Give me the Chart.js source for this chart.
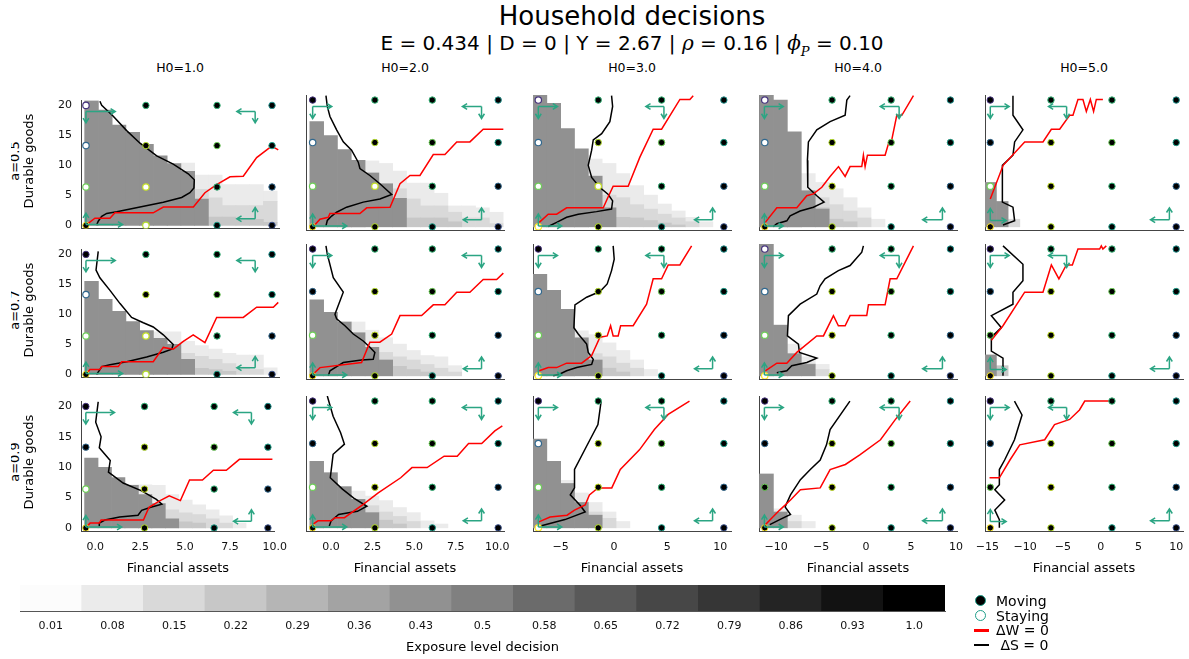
<!DOCTYPE html>
<html>
<head>
<meta charset="utf-8">
<script src="https://cdn.jsdelivr.net/npm/chart.js@4.4.0/dist/chart.umd.min.js"></script>
<style>
  html, body { margin: 0; padding: 0; background: #fff; }
  body { width: 1189px; height: 659px; position: relative; overflow: hidden; font-family: 'DejaVu Sans', sans-serif; color: #000; }
  canvas { position: absolute; }
  .txt { position: absolute; white-space: nowrap; text-align: center; }
  .m { font-family: 'DejaVu Serif', serif; font-style: italic; }
  .rot { position: absolute; width: 140px; height: 18px; line-height: 18px; font-size: 13px; text-align: center; transform: rotate(-90deg); white-space: nowrap; }
  .leg { position: absolute; font-size: 14px; line-height: 16px; white-space: nowrap; }
</style>
</head>
<body>
<div class="txt" style="left:0;width:1264px;top:1px;font-size:26px;line-height:30px;">Household decisions</div>
<div class="txt" style="left:0;width:1264px;top:31px;font-size:20px;line-height:24px;">E = 0.434 | D = 0 | Y = 2.67 | <span class="m">ρ</span> = 0.16 | <span class="m">ϕ</span><span class="m" style="font-size:13px;position:relative;top:6px;">P</span> = 0.10</div>
<div id="rowClip" style="position:absolute;left:10.5px;top:0;width:40px;height:659px;overflow:hidden;"></div>

<script>
// panel grid labels
const colTitles = ['H0=1.0', 'H0=2.0', 'H0=3.0', 'H0=4.0', 'H0=5.0'];
const rowTitles = ['a=0.5', 'a=0.7', 'a=0.9'];

// financial assets axis per column
const xMin = [-0.8, -1.5, -7.6, -11.9, -15.3];
const xMax = [10.0, 10.4, 11.0, 10.1, 10.9];
const xTicks = [[0, 2.5, 5, 7.5, 10], [0, 2.5, 5, 7.5, 10], [-5, 0, 5, 10], [-10, -5, 0, 5, 10], [-15, -10, -5, 0, 5, 10]];
const yTicks = [0, 5, 10, 15, 20];

// state grid (moving / staying markers)
const gridY = [0, 6.4, 13.3, 20];
const gridX = [
  [-0.53, 2.74, 6.62, 9.62],
  [-1.1, 2.64, 6.09, 10.05],
  [-7.1, -1.47, 4.48, 10.33],
  [-11.26, -3.78, 2.78, 9.37],
  [-14.6, -6.57, 1.5, 10.0]
];
const edgeColors = [
  ['#fde725', '#b5de2b', '#1f9e89', '#3b528b'],
  ['#6ece58', '#c2df23', '#35b779', '#31688e'],
  ['#31688e', '#b5de2b', '#6ece58', '#1f9e89'],
  ['#46337e', '#35b779', '#35b779', '#21918c']
];

// exposure heatmap bins (x centres) per column
const binX = [
  [-0.225, 0.525, 1.275, 2.025, 2.775, 3.525, 4.275, 5.025, 5.775, 6.525, 7.275, 8.025, 8.775, 9.525],
  [-0.855, -0.025, 0.805, 1.635, 2.465, 3.295, 4.125, 4.955, 5.785, 6.615, 7.445, 8.275, 9.105, 9.935],
  [-6.95, -5.65, -4.35, -3.05, -1.75, -0.45, 0.85, 2.15, 3.45, 4.75, 6.05, 7.35, 8.65, 9.95],
  [-11.075, -9.525, -7.975, -6.425, -4.875, -3.325, -1.775, -0.225, 1.325, 2.875, 4.425, 5.975, 7.525, 9.075],
  [-14.565, -13.015, -11.465, -9.915, -8.365, -6.815]
];
// exposure level of each stacked band: tops given bottom-up
const bandLevels = [0.43, 0.22, 0.15, 0.08];

const band11 = [
  [20.8, 19.2, 16.7, 15.5, 13.5, 11.6, 10.3, 9.0, 4.4, 0, 0, 0, 0, 0],
  [0, 0, 0, 0, 0, 0, 0, 0, 0, 1.4, 1.4, 1.0, 1.0, 0.5],
  [0, 0, 0, 0, 0, 0, 0, 0, 6.0, 4.6, 3.3, 3.3, 3.3, 4.0],
  [0, 0, 0, 0, 0, 0, 0, 10.4, 8.4, 8.4, 6.8, 6.8, 6.8, 5.7]
];
const band12 = [
  [16.6, 14.4, 12.2, 10.5, 8.5, 6.8, 4.5, 0, 0, 0, 0, 0, 0, 0],
  [0, 0, 0, 0, 0, 0, 0, 1.4, 1.4, 1.4, 0.8, 0, 0, 0],
  [0, 0, 0, 0, 0, 0, 6.0, 4.4, 3.3, 3.3, 2.3, 1.4, 1.4, 0.5],
  [0, 0, 0, 0, 10.4, 10.0, 8.8, 6.9, 6.9, 5.3, 3.3, 3.3, 3.0, 2.3]
];
const band13 = [
  [20.8, 19.5, 15.5, 12.3, 8.0, 3.0, 0, 0, 0, 0, 0, 0, 0, 0],
  [0, 0, 0, 0, 0, 0, 1.5, 1.4, 1.0, 0.6, 0.3, 0, 0, 0],
  [0, 0, 0, 0, 0, 5.0, 4.6, 3.5, 2.8, 2.0, 1.4, 0.8, 0, 0],
  [0, 0, 0, 0, 10.7, 10.0, 8.4, 6.5, 5.0, 3.6, 2.5, 1.5, 0.8, 0]
];
const band14 = [
  [20.8, 20.0, 15.0, 5.7, 2.8, 0, 0, 0, 0, 0, 0, 0, 0, 0],
  [0, 0, 0, 0, 3.0, 1.2, 0.8, 0, 0, 0, 0, 0, 0, 0],
  [0, 0, 0, 0, 4.6, 3.5, 2.5, 1.4, 0, 0, 0, 0, 0, 0],
  [0, 0, 0, 8.4, 7.0, 6.0, 4.6, 3.0, 1.2, 0, 0, 0, 0, 0]
];
const band15 = [
  [7.0, 4.0, 0, 0, 0, 0],
  [0, 0, 0, 0, 0, 0],
  [0, 0, 1.2, 0, 0, 0],
  [0, 0, 0, 0, 0, 0]
];
const band21 = [
  [15.5, 12.5, 10.5, 8.8, 7.3, 6.0, 5.0, 2.5, 0, 0, 0, 0, 0, 0],
  [0, 0, 0, 0, 0, 0, 0, 0, 1.0, 0.8, 0.5, 0, 0, 0],
  [0, 0, 0, 0, 0, 0, 0, 3.5, 3.0, 2.5, 1.8, 1.2, 0.8, 0],
  [0, 0, 0, 0, 0, 7.1, 7.1, 5.5, 4.8, 4.2, 3.5, 3.2, 3.2, 1.1]
];
const band22 = [
  [12.0, 10.0, 8.5, 6.8, 4.5, 2.5, 0, 0, 0, 0, 0, 0, 0, 0],
  [0, 0, 0, 0, 0, 0, 1.5, 1.0, 0.6, 0, 0, 0, 0, 0],
  [0, 0, 0, 0, 0, 3.7, 3.0, 2.5, 1.8, 1.2, 0.6, 0, 0, 0],
  [0, 0, 0, 8.5, 7.2, 6.0, 5.0, 4.0, 3.2, 3.0, 1.6, 0, 0, 0]
];
const band23 = [
  [16.0, 13.5, 10.5, 6.0, 2.5, 0, 0, 0, 0, 0, 0, 0, 0, 0],
  [0, 0, 0, 0, 0, 1.2, 0.6, 0, 0, 0, 0, 0, 0, 0],
  [0, 0, 0, 0, 3.5, 3.0, 2.0, 1.2, 0, 0, 0, 0, 0, 0],
  [0, 0, 0, 7.1, 6.5, 5.2, 4.0, 2.5, 1.0, 0, 0, 0, 0, 0]
];
const band24 = [
  [20.8, 8.0, 3.5, 1.8, 0, 0, 0, 0, 0, 0, 0, 0, 0, 0],
  [0, 0, 0, 0, 0, 0, 0, 0, 0, 0, 0, 0, 0, 0],
  [0, 0, 0, 2.0, 1.0, 0, 0, 0, 0, 0, 0, 0, 0, 0],
  [0, 0, 5.0, 3.0, 1.8, 0, 0, 0, 0, 0, 0, 0, 0, 0]
];
const band25 = [
  [3.3, 0, 0, 0, 0, 0],
  [0, 1.6, 0, 0, 0, 0],
  [0, 0, 0, 0, 0, 0],
  [0, 0, 0, 0, 0, 0]
];
const band31 = [
  [11.5, 10.0, 8.3, 7.0, 5.5, 4.0, 1.5, 0, 0, 0, 0, 0, 0, 0],
  [0, 0, 0, 0, 0, 0, 0, 1.0, 0.8, 0, 0, 0, 0, 0],
  [0, 0, 0, 0, 0, 0, 3.0, 2.5, 2.2, 1.5, 0.8, 0, 0, 0],
  [0, 0, 0, 7.1, 7.1, 7.0, 5.5, 4.6, 3.8, 3.0, 2.0, 0.8, 0, 0]
];
const band32 = [
  [10.5, 8.7, 6.5, 4.5, 2.4, 0, 0, 0, 0, 0, 0, 0, 0, 0],
  [0, 0, 0, 0, 0, 1.2, 0.6, 0, 0, 0, 0, 0, 0, 0],
  [0, 0, 0, 0, 3.5, 2.5, 1.8, 1.0, 0, 0, 0, 0, 0, 0],
  [0, 0, 0, 5.8, 5.0, 4.3, 3.2, 2.4, 1.1, 0.6, 0, 0, 0, 0]
];
const band33 = [
  [14.0, 10.5, 7.0, 4.0, 2.0, 0, 0, 0, 0, 0, 0, 0, 0, 0],
  [0, 0, 0, 0, 0, 0, 0, 0, 0, 0, 0, 0, 0, 0],
  [0, 0, 0, 0, 2.5, 1.5, 0, 0, 0, 0, 0, 0, 0, 0],
  [0, 0, 7.5, 5.5, 4.0, 2.5, 1.0, 0, 0, 0, 0, 0, 0, 0]
];
const band34 = [
  [8.5, 2.5, 0, 0, 0, 0, 0, 0, 0, 0, 0, 0, 0, 0],
  [0, 0, 0, 0, 0, 0, 0, 0, 0, 0, 0, 0, 0, 0],
  [0, 0, 1.0, 0, 0, 0, 0, 0, 0, 0, 0, 0, 0, 0],
  [0, 3.0, 2.0, 1.0, 0, 0, 0, 0, 0, 0, 0, 0, 0, 0]
];
const band35 = [[], [], [], []];

// ΔS = 0 (black) and ΔW = 0 (red) loci, [financial assets, durable goods]
const dS11 = [[0.23, 20.7], [0.33, 20.0], [0.96, 18.2], [1.69, 15.8], [2.42, 13.7], [3.33, 11.6], [4.23, 10.2], [5.05, 8.6], [5.38, 7.6], [5.36, 6.25], [5.14, 5.45], [4.69, 4.66], [3.69, 3.87], [2.42, 3.07], [1.15, 2.28], [0.6, 2.0], [0.33, 1.5], [0.14, 0.7], [0.05, 0.05]];
const dW11 = [[-0.53, 0.05], [-0.04, 1.2], [0.78, 1.2], [1.05, 2.1], [3.14, 2.1], [3.69, 3.07], [5.33, 3.07], [5.96, 5.45], [6.6, 6.8], [7.33, 8.1], [8.05, 8.2], [8.78, 11.3], [9.6, 13.2], [9.96, 12.6]];
const dS12 = [[-0.3, 20.7], [-0.22, 19.0], [-0.06, 17.4], [0.34, 15.3], [0.74, 13.4], [1.24, 12.1], [1.64, 10.2], [1.74, 9.2], [2.34, 8.1], [2.94, 6.8], [3.65, 5.1], [2.94, 4.4], [1.94, 3.9], [0.94, 3.1], [0.34, 2.3], [0.04, 1.7], [-0.22, 1.0], [-0.3, 0.16]];
const dW12 = [[-1.06, 0.05], [-0.66, 1.2], [-0.16, 1.5], [-0.06, 2.1], [1.74, 2.1], [2.15, 3.0], [3.55, 3.1], [4.15, 6.8], [4.75, 8.1], [5.35, 8.1], [6.15, 11.4], [6.85, 11.4], [7.56, 13.4], [8.35, 13.4], [9.15, 15.4], [10.36, 15.4]];
const dS13 = [[-0.22, 20.7], [-0.12, 19.0], [-0.38, 16.6], [-1.15, 14.7], [-1.94, 13.7], [-2.09, 12.1], [-2.41, 9.7], [-2.09, 7.8], [-1.31, 6.2], [-0.53, 5.1], [-0.12, 4.1], [-0.22, 2.8], [-1.63, 2.4], [-3.35, 2.0], [-4.44, 1.5], [-5.38, 0.7], [-6.17, 0.05]];
const dW13 = [[-7.01, 0.7], [-6.17, 2.0], [-5.38, 2.0], [-4.44, 3.0], [-1.0, 3.0], [-0.63, 4.4], [-0.07, 6.4], [1.34, 6.4], [2.44, 11.0], [3.69, 15.4], [4.48, 15.4], [6.2, 20.1], [7.14, 20.1], [7.45, 20.7]];
const dS14 = [[-1.78, 20.7], [-2.14, 20.0], [-2.33, 17.6], [-4.0, 16.6], [-5.48, 15.3], [-6.41, 13.4], [-6.52, 10.5], [-6.48, 6.25], [-5.48, 4.9], [-4.67, 3.9], [-5.86, 3.1], [-7.33, 2.5], [-8.44, 1.75], [-8.81, 0.95], [-9.92, 0.5], [-10.3, 0.05]];
const dW14 = [[-11.2, 0.7], [-9.92, 3.0], [-7.7, 3.0], [-6.59, 4.9], [-5.85, 5.2], [-4.92, 6.25], [-4.0, 7.95], [-3.07, 9.5], [-2.33, 7.95], [-1.78, 9.5], [-0.48, 9.5], [-0.3, 11.3], [-0.11, 9.5], [0.15, 11.3], [2.11, 11.3], [2.48, 13.1], [2.85, 13.7], [3.41, 17.6], [3.97, 17.6], [5.26, 20.7]];
const dS15 = [[-11.6, 20.7], [-11.6, 17.6], [-10.28, 15.3], [-11.38, 13.4], [-11.6, 11.3], [-13.0, 9.7], [-13.0, 3.9], [-11.6, 3.1], [-11.38, 0.95], [-12.92, 0.3]];
const dW15 = [[-14.6, 4.4], [-12.9, 9.7], [-10.05, 13.4], [-7.63, 13.4], [-6.52, 15.4], [-5.42, 15.4], [-4.1, 17.6], [-3.66, 17.6], [-3.0, 20.1], [-2.34, 20.1], [-1.89, 18.2], [-1.36, 20.1], [-0.93, 18.2], [-0.57, 20.1], [0.3, 20.1]];

const dS21 = [[0.14, 20.5], [0.02, 17.4], [0.23, 16.1], [0.78, 14.0], [1.33, 11.8], [1.96, 9.5], [2.6, 8.6], [3.14, 7.9], [3.69, 6.6], [4.23, 5.0], [4.15, 4.2], [3.69, 3.7], [2.78, 2.9], [1.69, 2.1], [0.78, 1.6], [0.33, 1.3], [0.23, 0.8], [0.05, 0.0]];
const dW21 = [[-0.53, 0], [-0.31, 0.8], [0.23, 0.8], [0.33, 1.3], [1.23, 1.3], [1.42, 2.1], [3.14, 2.1], [3.69, 4.5], [4.23, 4.2], [4.78, 5.5], [5.32, 6.6], [5.96, 5.3], [6.6, 9.5], [8.05, 9.5], [8.78, 11.2], [9.69, 11.2], [9.96, 12.0]];
const dS22 = [[-0.3, 20.5], [-0.22, 19.2], [0.14, 15.5], [0.74, 13.2], [0.24, 9.7], [0.34, 9.0], [0.84, 7.9], [1.34, 6.6], [1.94, 5.5], [2.34, 4.5], [2.64, 3.7], [2.54, 2.6], [1.84, 2.5], [0.74, 2.1], [0.44, 1.6], [-0.06, 0.8], [-0.16, 0]];
const dW22 = [[-1.06, 0.3], [-0.66, 1.3], [1.84, 2.1], [2.34, 5.3], [2.94, 5.3], [3.65, 6.6], [4.15, 9.5], [5.45, 9.5], [6.15, 11.2], [6.85, 11.2], [7.56, 13.2], [8.35, 13.2], [9.15, 15.2], [9.96, 15.2], [10.36, 16.2]];
const dS23 = [[-0.07, 20.5], [0.03, 18.4], [-0.22, 16.6], [-0.63, 14.5], [-1.31, 13.3], [-2.56, 12.4], [-3.66, 11.2], [-3.76, 7.6], [-3.35, 6.6], [-2.56, 5.0], [-2.41, 3.7], [-1.94, 2.6], [-2.09, 1.8], [-3.5, 1.3], [-4.44, 0.8], [-5.07, 0.3], [-5.7, 0]];
const dW23 = [[-7.01, 0.8], [-6.17, 1.3], [-5.38, 1.3], [-4.44, 2.0], [-3.03, 2.0], [-2.09, 3.2], [-1.31, 6.1], [-0.63, 6.3], [-0.31, 7.9], [-0.07, 6.3], [0.4, 6.3], [0.63, 7.9], [1.81, 7.9], [3.07, 11.3], [3.69, 15.3], [4.48, 15.3], [5.1, 17.5], [6.2, 17.5], [7.3, 20.5]];
const dS24 = [[-0.3, 20.5], [-0.48, 19.5], [-1.78, 17.4], [-3.08, 16.6], [-4.56, 15.3], [-5.11, 14.2], [-5.48, 12.9], [-7.33, 11.3], [-8.63, 9.5], [-8.74, 6.3], [-7.52, 5.0], [-7.41, 3.7], [-5.48, 2.8], [-6.59, 2.1], [-8.26, 1.6], [-8.81, 0.8], [-9.92, 0.5]];
const dW24 = [[-11.2, 0.8], [-9.92, 2.0], [-8.81, 2.0], [-7.7, 3.7], [-5.48, 6.3], [-4.74, 6.3], [-3.63, 9.5], [-3.08, 7.9], [-2.33, 7.9], [-1.78, 9.5], [0.07, 9.5], [0.26, 11.2], [2.11, 11.2], [2.67, 15.3], [3.41, 15.3], [5.26, 20.5]];
const dS25 = [[-12.92, 20.5], [-10.28, 17.6], [-10.28, 15.0], [-11.6, 13.2], [-11.6, 11.3], [-14.46, 9.5], [-13.13, 7.6], [-14.46, 6.1], [-14.46, 3.9], [-12.92, 2.8], [-12.92, 0]];
const dW25 = [[-14.46, 5.6], [-12.92, 7.9], [-10.05, 13.2], [-7.63, 13.2], [-6.52, 17.5], [-5.52, 15.3], [-4.54, 17.5], [-3.74, 17.5], [-3.0, 20.0], [-0.13, 20.0], [0.09, 20.5], [0.3, 20.0], [0.75, 20.5]];

const dS31 = [[0.16, 20.8], [0.02, 17.4], [0.32, 15.0], [0.22, 13.2], [0.83, 11.1], [0.73, 9.2], [1.55, 7.4], [2.58, 6.1], [3.4, 4.7], [3.71, 3.9], [3.09, 3.4], [2.58, 2.9], [2.38, 2.1], [1.35, 1.8], [0.53, 1.3], [0.22, 0.8], [0.22, 0.3]];
const dW31 = [[-0.46, 0.3], [-0.29, 0.8], [0.22, 0.8], [0.32, 1.3], [2.68, 1.3], [2.99, 3.4], [3.61, 4.5], [4.12, 5.3], [4.74, 4.5], [5.25, 7.9], [5.97, 7.9], [6.58, 9.5], [7.3, 9.5], [8.03, 11.3], [9.87, 11.3]];
const dS32 = [[-0.22, 20.8], [0.13, 17.6], [0.58, 15.0], [0.81, 13.2], [0.13, 11.6], [-0.04, 7.9], [0.69, 6.1], [1.37, 4.7], [2.16, 3.4], [1.59, 2.6], [0.46, 2.1], [0.01, 1.1], [-0.1, 0.3]];
const dW32 = [[-1.12, 0.5], [-0.78, 1.1], [0.01, 1.1], [0.24, 1.6], [0.81, 1.6], [1.94, 3.7], [2.84, 5.5], [4.19, 7.9], [4.87, 9.5], [5.78, 9.5], [6.8, 11.3], [7.59, 11.3], [8.27, 13.3], [9.06, 13.3], [9.85, 15.3], [10.3, 16.1]];
const dS33 = [[-1.2, 20.0], [-1.5, 16.3], [-2.25, 13.9], [-3.7, 9.2], [-3.7, 6.3], [-4.1, 5.2], [-3.2, 3.6], [-2.7, 2.5], [-4.6, 1.3], [-6.9, 0.3]];
const dW33 = [[-7.1, 0.9], [-6.0, 1.7], [-4.4, 2.0], [-3.7, 2.8], [-2.7, 3.6], [-2.3, 5.2], [-1.5, 6.3], [-0.2, 6.3], [0.6, 9.2], [2.4, 12.3], [3.8, 15.5], [5.1, 17.9], [7.1, 20.0]];
const dS34 = [[-1.8, 20], [-4, 15.5], [-4.4, 13.1], [-5.1, 10.7], [-6.2, 9.2], [-7.3, 7.6], [-8.4, 5.2], [-9, 3.3], [-8.4, 2.1], [-9.6, 1.3], [-10.7, 0.5]];
const dW34 = [[-11.2, 0.5], [-9.6, 2.8], [-8.4, 4.4], [-7.3, 6.0], [-5.1, 6.3], [-4, 9.2], [-2.3, 10], [-0.7, 11.5], [1.6, 13.9], [3.2, 17], [4.9, 20]];
const dS35 = [[-11.4, 20], [-10.4, 17.8], [-11.4, 13.9], [-12.7, 10.7], [-13.4, 9.2], [-13.4, 6.8], [-14, 6], [-12.7, 4.4], [-14, 2.8], [-13.4, 1.3], [-13.4, 0]];
const dW35 = [[-14.7, 7.9], [-13.4, 7.9], [-12, 10.7], [-10.7, 13.1], [-7.4, 13.9], [-6.1, 16.3], [-4.1, 17.1], [-2.8, 18.6], [-2.1, 20], [1.2, 20]];

// grid states where the household stays, [asset index, durable index]
const stay11 = [[0, 3], [0, 2], [0, 1], [1, 1], [1, 0]];
const stay12 = [[0, 2], [0, 1], [1, 1]];
const stay13 = [[0, 3], [0, 2], [0, 1], [0, 0], [1, 1]];
const stay14 = [[0, 3], [0, 2], [0, 1]];
const stay15 = [[0, 1]];
const stay21 = [[0, 2], [0, 1], [1, 1], [1, 0]];
const stay22 = [[0, 1]];
const stay23 = [[0, 2], [0, 1], [0, 0]];
const stay24 = [[0, 3], [0, 2], [0, 1], [0, 0]];
const stay25 = [];
const stay31 = [[0, 1]];
const stay32 = [[0, 1]];
const stay33 = [[0, 2], [0, 1], [0, 0]];
const stay34 = [];
const stay35 = [];

// direction arrows per column: [x, y, dx, dy]
const arrows1 = [[-0.53, 19.0, 1.6, -1.9], [8.7, 19.0, -1.0, -1.9], [-0.53, 0.15, 2.0, 1.9], [8.7, 1.1, -1.0, 1.9]];
const arrows2 = [[-1.1, 19.0, 1.15, -1.9], [9.05, 19.0, -1.15, -1.9], [-1.1, 0.15, 2.05, 1.9], [9.05, 1.1, -1.1, 1.9]];
const arrows3 = [[-7.1, 19.0, 1.8, -1.9], [4.7, 19.0, -1.7, -1.9], [-7.1, 0.15, 2.2, 1.9], [9.27, 1.1, -1.7, 1.9]];
const arrows4 = [[-11.3, 19.0, 2.1, -1.9], [3.67, 19.0, -2.1, -1.9], [-11.3, 0.15, 2.1, 1.9], [8.48, 1.1, -2.2, 1.9]];
const arrows5 = [[-14.6, 19.0, 2.5, -1.9], [-4.5, 19.0, -2.4, -1.9], [-14.6, 1.0, 2.1, 1.9], [9.1, 1.1, -2.5, 1.9]];

// colorbar
const cbarLabels = ['0.01', '0.08', '0.15', '0.22', '0.29', '0.36', '0.43', '0.5', '0.58', '0.65', '0.72', '0.79', '0.86', '0.93', '1.0'];

const bands = [[band11, band12, band13, band14, band15], [band21, band22, band23, band24, band25], [band31, band32, band33, band34, band35]];
const dS = [[dS11, dS12, dS13, dS14, dS15], [dS21, dS22, dS23, dS24, dS25], [dS31, dS32, dS33, dS34, dS35]];
const dW = [[dW11, dW12, dW13, dW14, dW15], [dW21, dW22, dW23, dW24, dW25], [dW31, dW32, dW33, dW34, dW35]];
const stays = [[stay11, stay12, stay13, stay14, stay15], [stay21, stay22, stay23, stay24, stay25], [stay31, stay32, stay33, stay34, stay35]];
const arrows = [arrows1, arrows2, arrows3, arrows4, arrows5];

// page layout
const colLeft = [81, 306, 533, 759, 985];
const rowTop = [95, 244, 396];
const plotW = 198, plotH = 135;

Chart.defaults.font.family = "'DejaVu Sans', sans-serif";
Chart.defaults.color = '#111';

function gray(v) {
  const g = Math.round(255 * (1 - v));
  return `rgb(${g},${g},${g})`;
}

function arrowLine(ctx, x0, y0, x1, y1) {
  const a = Math.atan2(y1 - y0, x1 - x0), h = 5.5;
  ctx.beginPath();
  ctx.moveTo(x0, y0);
  ctx.lineTo(x1, y1);
  ctx.moveTo(x1 - h * Math.cos(a - 0.55), y1 - h * Math.sin(a - 0.55));
  ctx.lineTo(x1, y1);
  ctx.lineTo(x1 - h * Math.cos(a + 0.55), y1 - h * Math.sin(a + 0.55));
  ctx.stroke();
}

const quiverPlugin = {
  id: 'quiver',
  afterDatasetsDraw(chart, args, opts) {
    const { ctx, scales: { x, y } } = chart;
    ctx.save();
    ctx.strokeStyle = opts.color;
    ctx.lineWidth = 1.5;
    for (const [ax, ay, dx, dy] of opts.items) {
      const x0 = x.getPixelForValue(ax), y0 = y.getPixelForValue(ay);
      arrowLine(ctx, x0, y0, x.getPixelForValue(ax + dx), y0);
      arrowLine(ctx, x0, y0, x0, y.getPixelForValue(ay + dy));
    }
    ctx.restore();
  }
};

function fmtTick(c, v) {
  const s = c < 2 ? v.toFixed(1) : String(v);
  return s.replace('-', '\u2212');
}

function makePanel(r, c) {
  const axL = c === 0 ? 70 : 24;
  const axB = r === 2 ? 46 : 4;
  const padT = 10, padR = 18, padB = r === 2 ? 0 : 10;
  const cv = document.createElement('canvas');
  cv.width = axL + plotW + padR;
  cv.height = padT + plotH + axB + padB;
  cv.style.left = (colLeft[c] - axL) + 'px';
  cv.style.top = (rowTop[r] - padT) + 'px';
  document.body.appendChild(cv);

  const datasets = [];
  const bins = binX[c];
  const base = bins.map(() => 0);
  bands[r][c].forEach((tops, k) => {
    const pts = [];
    tops.forEach((t, i) => {
      if (t > base[i]) {
        pts.push({ x: bins[i], y: [base[i], t] });
        base[i] = t;
      }
    });
    if (pts.length) {
      datasets.push({ type: 'bar', data: pts, backgroundColor: gray(bandLevels[k]), borderWidth: 0,
        grouped: false, categoryPercentage: 1, barPercentage: 1, order: 4 });
    }
  });

  const toXY = pts => pts.map(([x, y]) => ({ x, y }));
  datasets.push({ type: 'line', data: toXY(dS[r][c]), borderColor: '#000', borderWidth: 1.5, pointRadius: 0, tension: 0, order: 3 });
  datasets.push({ type: 'line', data: toXY(dW[r][c]), borderColor: '#ff0000', borderWidth: 1.5, pointRadius: 0, tension: 0, order: 2 });

  const stayKeys = new Set(stays[r][c].map(([i, j]) => i + ',' + j));
  const moving = [], movingEdge = [], staying = [], stayingEdge = [];
  gridX[c].forEach((gx, i) => gridY.forEach((gy, j) => {
    if (stayKeys.has(i + ',' + j)) { staying.push({ x: gx, y: gy }); stayingEdge.push(edgeColors[j][i]); }
    else { moving.push({ x: gx, y: gy }); movingEdge.push(edgeColors[j][i]); }
  }));
  datasets.push({ type: 'scatter', data: moving, pointRadius: 3.2, pointBackgroundColor: '#000', pointBorderColor: movingEdge, pointBorderWidth: 1, order: 1 });
  datasets.push({ type: 'scatter', data: staying, pointRadius: 3.2, pointBackgroundColor: '#fff', pointBorderColor: stayingEdge, pointBorderWidth: 1.2, order: 1 });

  new Chart(cv, {
    type: 'scatter',
    data: { datasets },
    options: {
      responsive: false,
      animation: false,
      events: [],
      layout: { padding: { top: padT, right: padR, left: 0, bottom: padB } },
      plugins: {
        legend: { display: false },
        tooltip: { enabled: false },
        quiver: { items: arrows[c], color: '#2ba583' }
      },
      scales: {
        x: {
          type: 'linear', min: xMin[c], max: xMax[c], offset: false,
          grid: { display: false, drawTicks: false },
          border: { display: true, color: '#444', width: 1 },
          ticks: { display: r === 2, padding: 10, font: { size: 11 }, callback: v => fmtTick(c, v) },
          afterBuildTicks: a => { a.ticks = xTicks[c].map(v => ({ value: v })); },
          afterFit: a => { a.height = axB; },
          title: { display: r === 2, text: 'Financial assets', font: { size: 13 }, color: '#000', padding: { top: 0, bottom: 1 } }
        },
        y: {
          type: 'linear', min: -0.5, max: 20.8,
          grid: { display: false, drawTicks: false },
          border: { display: true, color: '#444', width: 1 },
          ticks: { display: c === 0, padding: 9, font: { size: 11 } },
          afterBuildTicks: a => { a.ticks = yTicks.map(v => ({ value: v })); },
          afterFit: a => { a.width = axL; }
        }
      }
    },
    plugins: [quiverPlugin]
  });
}

for (let r = 0; r < 3; r++) for (let c = 0; c < 5; c++) makePanel(r, c);

// column and row titles
colTitles.forEach((t, c) => {
  const d = document.createElement('div');
  d.className = 'txt';
  d.style.cssText = `left:${colLeft[c] + plotW / 2 - 60}px;width:120px;top:60px;font-size:12.5px;line-height:16px;`;
  d.textContent = t;
  document.body.appendChild(d);
});
const rowClip = document.getElementById('rowClip');
rowTitles.forEach((t, r) => {
  const cy = rowTop[r] + 66;
  const a = document.createElement('div');
  a.className = 'rot';
  a.style.left = (14.5 - 10.5 - 70) + 'px';
  a.style.top = (cy - 9) + 'px';
  a.textContent = t;
  rowClip.appendChild(a);
  const b = document.createElement('div');
  b.className = 'rot';
  b.style.left = (29 - 70) + 'px';
  b.style.top = (cy - 9) + 'px';
  b.textContent = 'Durable goods';
  document.body.appendChild(b);
});

// exposure colorbar
const cb = document.createElement('canvas');
cb.width = 945; cb.height = 84;
cb.style.left = '10px'; cb.style.top = '575px';
document.body.appendChild(cb);
new Chart(cb, {
  type: 'bar',
  data: {
    labels: cbarLabels,
    datasets: [{
      data: cbarLabels.map(() => 1),
      backgroundColor: cbarLabels.map(l => gray(parseFloat(l))),
      borderWidth: 0, categoryPercentage: 1, barPercentage: 1
    }]
  },
  options: {
    responsive: false, animation: false, events: [],
    layout: { padding: { left: 10, right: 10, top: 10, bottom: 0 } },
    plugins: { legend: { display: false }, tooltip: { enabled: false } },
    scales: {
      x: {
        grid: { display: false, drawTicks: false },
        border: { display: true, color: '#555', width: 1 },
        ticks: { font: { size: 11 }, padding: 9, maxRotation: 0, autoSkip: false },
        title: { display: true, text: 'Exposure level decision', font: { size: 13 }, color: '#000', padding: { top: 0, bottom: 4 } },
        afterFit: a => { a.height = 48; }
      },
      y: { display: false, min: 0, max: 1 }
    }
  }
});

// legend
const legendItems = [
  { text: 'Moving', kind: 'dot', fill: '#000' },
  { text: 'Staying', kind: 'dot', fill: '#fff' },
  { text: 'ΔW = 0', kind: 'line', color: '#ff0000' },
  { text: '\u00a0ΔS = 0', kind: 'line', color: '#000' }
];
legendItems.forEach((it, i) => {
  const cy = 601 + i * 14.5;
  const sw = document.createElement('div');
  if (it.kind === 'dot') {
    sw.style.cssText = `position:absolute;left:975px;top:${cy - 6}px;width:9px;height:9px;border-radius:50%;background:${it.fill};border:1.5px solid #1f9e89;`;
  } else {
    sw.style.cssText = `position:absolute;left:974px;top:${cy - 1}px;width:15px;height:2.5px;background:${it.color};`;
  }
  document.body.appendChild(sw);
  const t = document.createElement('div');
  t.className = 'leg';
  t.style.left = '996px';
  t.style.top = (cy - 8) + 'px';
  t.textContent = it.text;
  document.body.appendChild(t);
});
</script>
</body>
</html>
